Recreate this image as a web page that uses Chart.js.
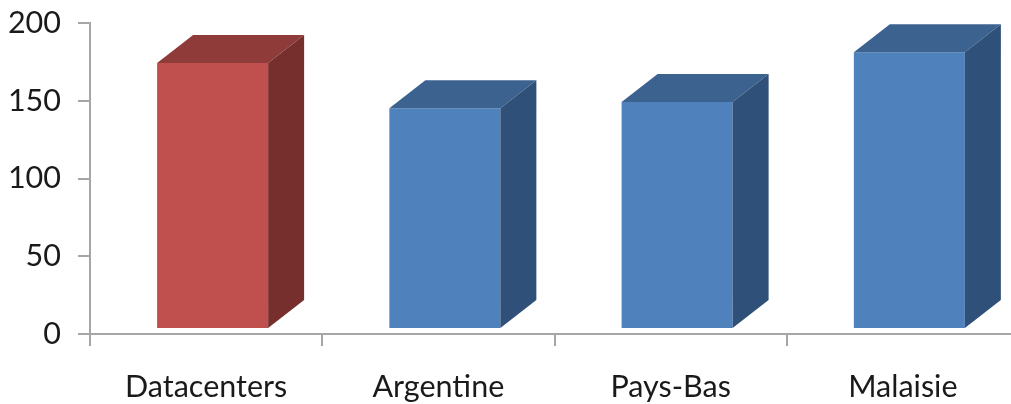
<!DOCTYPE html>
<html>
<head>
<meta charset="utf-8">
<script src="https://cdn.jsdelivr.net/npm/chart.js@4"></script>
<style>
  html, body { margin: 0; padding: 0; background: #fff; overflow: hidden; }
  #wrap { width: 1019px; height: 404px; }
</style>
</head>
<body>
<div id="wrap"><canvas id="chart" width="1019" height="404"></canvas></div>
<script>
// Données
const categories = ["Datacenters", "Argentine", "Pays-Bas", "Malaisie"];
const values = [171, 142, 146, 178];
const yTicks = [0, 50, 100, 150, 200];

// couleurs des faces : avant, dessus, côté
const redFaces = ["#c0504d", "#8e3b39", "#772f2d"];
const blueFaces = ["#4f81bd", "#3c6290", "#2f5078"];
const faceColors = categories.map((c, i) => (i === 0 ? redFaces : blueFaces));

// profondeur des barres 3D
const DEPTH_X = 36;
const DEPTH_Y = 28;
const RECESS = 0.18; // la face avant est un peu en retrait du plan des axes

const bar3d = {
  id: "bar3d",
  beforeDatasetsDraw(chart) {
    chart.ctx.save();
    chart.ctx.translate(DEPTH_X * RECESS, -DEPTH_Y * RECESS);
  },
  afterDatasetsDraw(chart) {
    const ctx = chart.ctx;
    chart.getDatasetMeta(0).data.forEach((bar, i) => {
      const { x, y, base, width } = bar.getProps(["x", "y", "base", "width"], true);
      const l = x - width / 2;
      const r = x + width / 2;
      const [front, top, side] = faceColors[i];

      // dessus
      ctx.fillStyle = top;
      ctx.beginPath();
      ctx.moveTo(l, y);
      ctx.lineTo(l + DEPTH_X, y - DEPTH_Y);
      ctx.lineTo(r + DEPTH_X, y - DEPTH_Y);
      ctx.lineTo(r, y);
      ctx.closePath();
      ctx.fill();

      // côté droit
      ctx.fillStyle = side;
      ctx.beginPath();
      ctx.moveTo(r, y);
      ctx.lineTo(r + DEPTH_X, y - DEPTH_Y);
      ctx.lineTo(r + DEPTH_X, base - DEPTH_Y);
      ctx.lineTo(r, base);
      ctx.closePath();
      ctx.fill();
    });
    ctx.restore();
  }
};

const axisColor = "#a6a6a6";
const labelFont = { family: "Lato", size: 30.5 };

new Chart(document.getElementById("chart"), {
  type: "bar",
  data: {
    labels: categories,
    datasets: [{
      data: values,
      backgroundColor: faceColors.map(f => f[0]),
      borderWidth: 0,
      categoryPercentage: 1,
      barPercentage: 0.478,
      clip: false
    }]
  },
  options: {
    responsive: false,
    animation: false,
    events: [],
    layout: { padding: { top: 23, right: 0, left: 0, bottom: 0 } },
    plugins: {
      legend: { display: false },
      tooltip: { enabled: false }
    },
    scales: {
      x: {
        grid: {
          display: true,
          drawOnChartArea: false,
          tickLength: 12,
          color: axisColor,
          lineWidth: 2
        },
        border: { color: axisColor, width: 2 },
        ticks: { font: labelFont, color: "#1a1a1a", padding: 23, maxRotation: 0 },
        afterFit(scale) {
          scale.height = 70;
          scale.paddingLeft = 0;
          scale.paddingRight = 0;
        }
      },
      y: {
        min: 0,
        max: 200,
        afterBuildTicks(scale) { scale.ticks = yTicks.map(v => ({ value: v })); },
        grid: {
          display: true,
          drawOnChartArea: false,
          tickLength: 12,
          color: axisColor,
          lineWidth: 2
        },
        border: { color: axisColor, width: 2 },
        ticks: { font: labelFont, color: "#1a1a1a", padding: 17 },
        afterFit(scale) {
          scale.width = 90;
          scale.paddingTop = 0;
          scale.paddingBottom = 0;
        }
      }
    }
  },
  plugins: [bar3d]
});
</script>
</body>
</html>
